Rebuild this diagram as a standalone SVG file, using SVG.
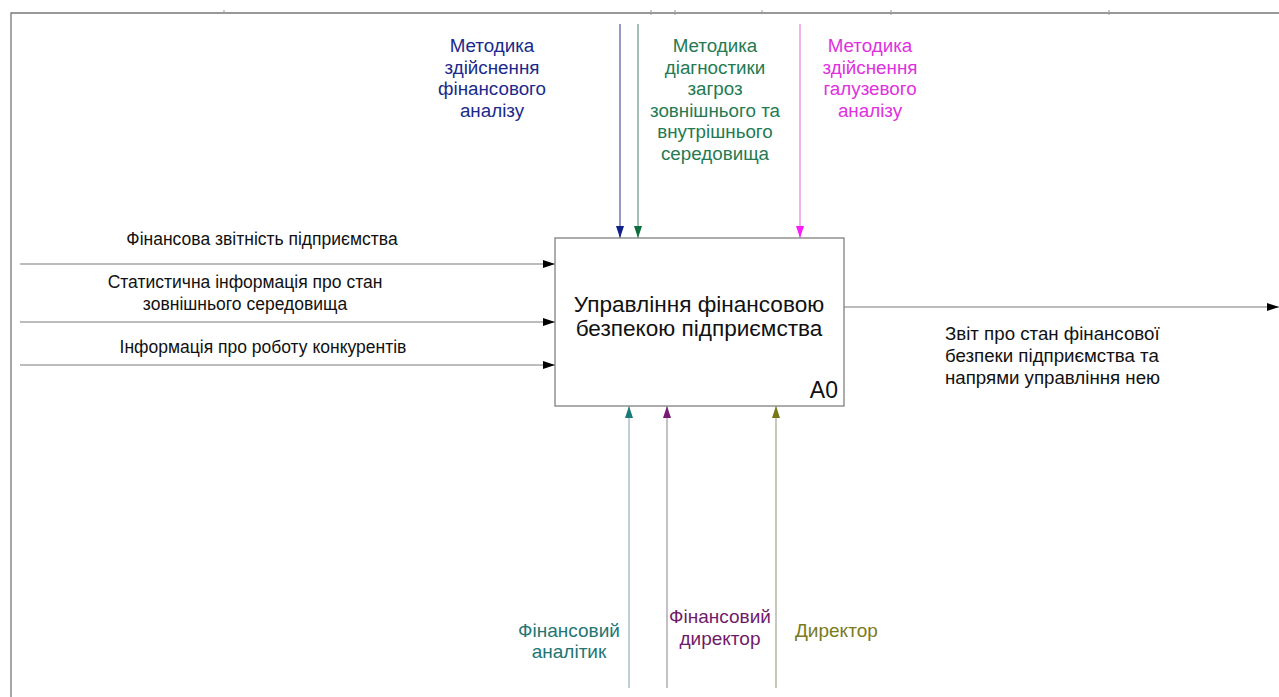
<svg xmlns="http://www.w3.org/2000/svg" width="1279" height="697" viewBox="0 0 1279 697">
  <style>
    text { font-family: "Liberation Sans", Arial, sans-serif; }
    .lbl { font-size: 17.5px; fill: #111; }
    .ctr { text-anchor: middle; }
    .frame { stroke: #777; stroke-width: 1.3; fill: none; }
    .tick { stroke: #999; stroke-width: 1; }
    .conn { stroke: #7a7a7a; stroke-width: 1.2; fill: none; }
  </style>
  <defs>
    <marker id="ah-black" viewBox="0 0 12 8" refX="12" refY="4" markerWidth="12" markerHeight="8" markerUnits="userSpaceOnUse" orient="auto">
      <path d="M0,0 L12,4 L0,8 Z" fill="#000"/>
    </marker>
    <marker id="ah-navy" viewBox="0 0 12 8" refX="12" refY="4" markerWidth="12" markerHeight="9" markerUnits="userSpaceOnUse" orient="auto">
      <path d="M0,0 L12,4 L0,8 Z" fill="#10208a"/>
    </marker>
    <marker id="ah-green" viewBox="0 0 12 8" refX="12" refY="4" markerWidth="12" markerHeight="9" markerUnits="userSpaceOnUse" orient="auto">
      <path d="M0,0 L12,4 L0,8 Z" fill="#0f6e40"/>
    </marker>
    <marker id="ah-magenta" viewBox="0 0 12 8" refX="12" refY="4" markerWidth="12" markerHeight="9" markerUnits="userSpaceOnUse" orient="auto">
      <path d="M0,0 L12,4 L0,8 Z" fill="#ff1aff"/>
    </marker>
    <marker id="ah-teal" viewBox="0 0 12 8" refX="12" refY="4" markerWidth="12" markerHeight="9" markerUnits="userSpaceOnUse" orient="auto">
      <path d="M0,0 L12,4 L0,8 Z" fill="#1a7a78"/>
    </marker>
    <marker id="ah-purple" viewBox="0 0 12 8" refX="12" refY="4" markerWidth="12" markerHeight="9" markerUnits="userSpaceOnUse" orient="auto">
      <path d="M0,0 L12,4 L0,8 Z" fill="#761a72"/>
    </marker>
    <marker id="ah-olive" viewBox="0 0 12 8" refX="12" refY="4" markerWidth="12" markerHeight="9" markerUnits="userSpaceOnUse" orient="auto">
      <path d="M0,0 L12,4 L0,8 Z" fill="#767614"/>
    </marker>
  </defs>

  <rect width="1279" height="697" fill="#fff"/>

  <!-- sheet frame -->
  <g id="frame">
    <path class="frame" d="M11,697 V13 H1279"/>
    <line class="tick" x1="224" y1="10" x2="224" y2="14"/>
    <line class="tick" x1="651" y1="10" x2="651" y2="15"/>
    <line class="tick" x1="675" y1="10" x2="675" y2="15"/>
    <line class="tick" x1="762" y1="10" x2="762" y2="14"/>
    <line class="tick" x1="891" y1="10" x2="891" y2="15"/>
    <line class="tick" x1="1109" y1="10" x2="1109" y2="15"/>
  </g>

  <!-- connectors -->
  <g id="connectors">
    <!-- inputs -->
    <line class="conn" x1="20" y1="264" x2="555" y2="264" marker-end="url(#ah-black)"/>
    <line class="conn" x1="20" y1="322" x2="555" y2="322" marker-end="url(#ah-black)"/>
    <line class="conn" x1="20" y1="365" x2="555" y2="365" marker-end="url(#ah-black)"/>
    <!-- output -->
    <line class="conn" x1="844" y1="307" x2="1279" y2="307" marker-end="url(#ah-black)"/>
    <!-- controls -->
    <line x1="620" y1="24" x2="620" y2="238" stroke="#3a4a9a" stroke-width="1.1" marker-end="url(#ah-navy)"/>
    <line x1="638" y1="24" x2="638" y2="238" stroke="#5a8a78" stroke-width="1.1" marker-end="url(#ah-green)"/>
    <line x1="800" y1="24" x2="800" y2="238" stroke="#e070e0" stroke-width="1.1" marker-end="url(#ah-magenta)"/>
    <!-- mechanisms -->
    <line x1="629" y1="688" x2="629" y2="406" stroke="#8aa8b0" stroke-width="1.1" marker-end="url(#ah-teal)"/>
    <line x1="667" y1="688" x2="667" y2="406" stroke="#9a8a9a" stroke-width="1.1" marker-end="url(#ah-purple)"/>
    <line x1="776" y1="688" x2="776" y2="406" stroke="#9a9a88" stroke-width="1.1" marker-end="url(#ah-olive)"/>
  </g>

  <!-- activity A0 -->
  <g id="node-a0">
    <rect x="555" y="238" width="289" height="168" fill="#fff" stroke="#808080" stroke-width="1.3"/>
    <text x="699" y="312" text-anchor="middle" font-size="22.6" fill="#111">Управління фінансовою</text>
    <text x="699" y="336" text-anchor="middle" font-size="22.6" fill="#111">безпекою підприємства</text>
    <text x="838" y="398" text-anchor="end" font-size="23" fill="#111">A0</text>
  </g>

  <!-- input labels -->
  <g id="label-input-1">
    <text class="lbl ctr" x="262" y="245">Фінансова звітність підприємства</text>
  </g>
  <g id="label-input-2">
    <text class="lbl ctr" x="245" y="288">Статистична інформація про стан</text>
    <text class="lbl ctr" x="245" y="310">зовнішнього середовища</text>
  </g>
  <g id="label-input-3">
    <text class="lbl ctr" x="263" y="353">Інформація про роботу конкурентів</text>
  </g>

  <!-- output label -->
  <g id="label-output" font-size="18.7" fill="#111">
    <text x="945" y="340">Звіт про стан фінансової</text>
    <text x="945" y="362">безпеки підприємства та</text>
    <text x="945" y="384">напрями управління нею</text>
  </g>

  <!-- control labels -->
  <g id="label-control-1" fill="#1a2a8a" font-size="18.8" text-anchor="middle">
    <text x="492" y="52">Методика</text>
    <text x="492" y="73.5">здійснення</text>
    <text x="492" y="95">фінансового</text>
    <text x="492" y="116.5">аналізу</text>
  </g>
  <g id="label-control-2" fill="#247a52" font-size="18.8" text-anchor="middle">
    <text x="715" y="52">Методика</text>
    <text x="715" y="73.5">діагностики</text>
    <text x="715" y="95">загроз</text>
    <text x="715" y="116.5">зовнішнього та</text>
    <text x="715" y="138">внутрішнього</text>
    <text x="715" y="159.5">середовища</text>
  </g>
  <g id="label-control-3" fill="#e030e0" font-size="18.8" text-anchor="middle">
    <text x="870" y="52">Методика</text>
    <text x="870" y="73.5">здійснення</text>
    <text x="870" y="95">галузевого</text>
    <text x="870" y="116.5">аналізу</text>
  </g>

  <!-- mechanism labels -->
  <g id="label-mech-1" fill="#237575" font-size="19" text-anchor="middle">
    <text x="569" y="637">Фінансовий</text>
    <text x="569" y="658">аналітик</text>
  </g>
  <g id="label-mech-2" fill="#701a6a" font-size="19" text-anchor="middle">
    <text x="720" y="623">Фінансовий</text>
    <text x="720" y="645">директор</text>
  </g>
  <g id="label-mech-3" fill="#7a7a20" font-size="19">
    <text x="795" y="637">Директор</text>
  </g>
</svg>
